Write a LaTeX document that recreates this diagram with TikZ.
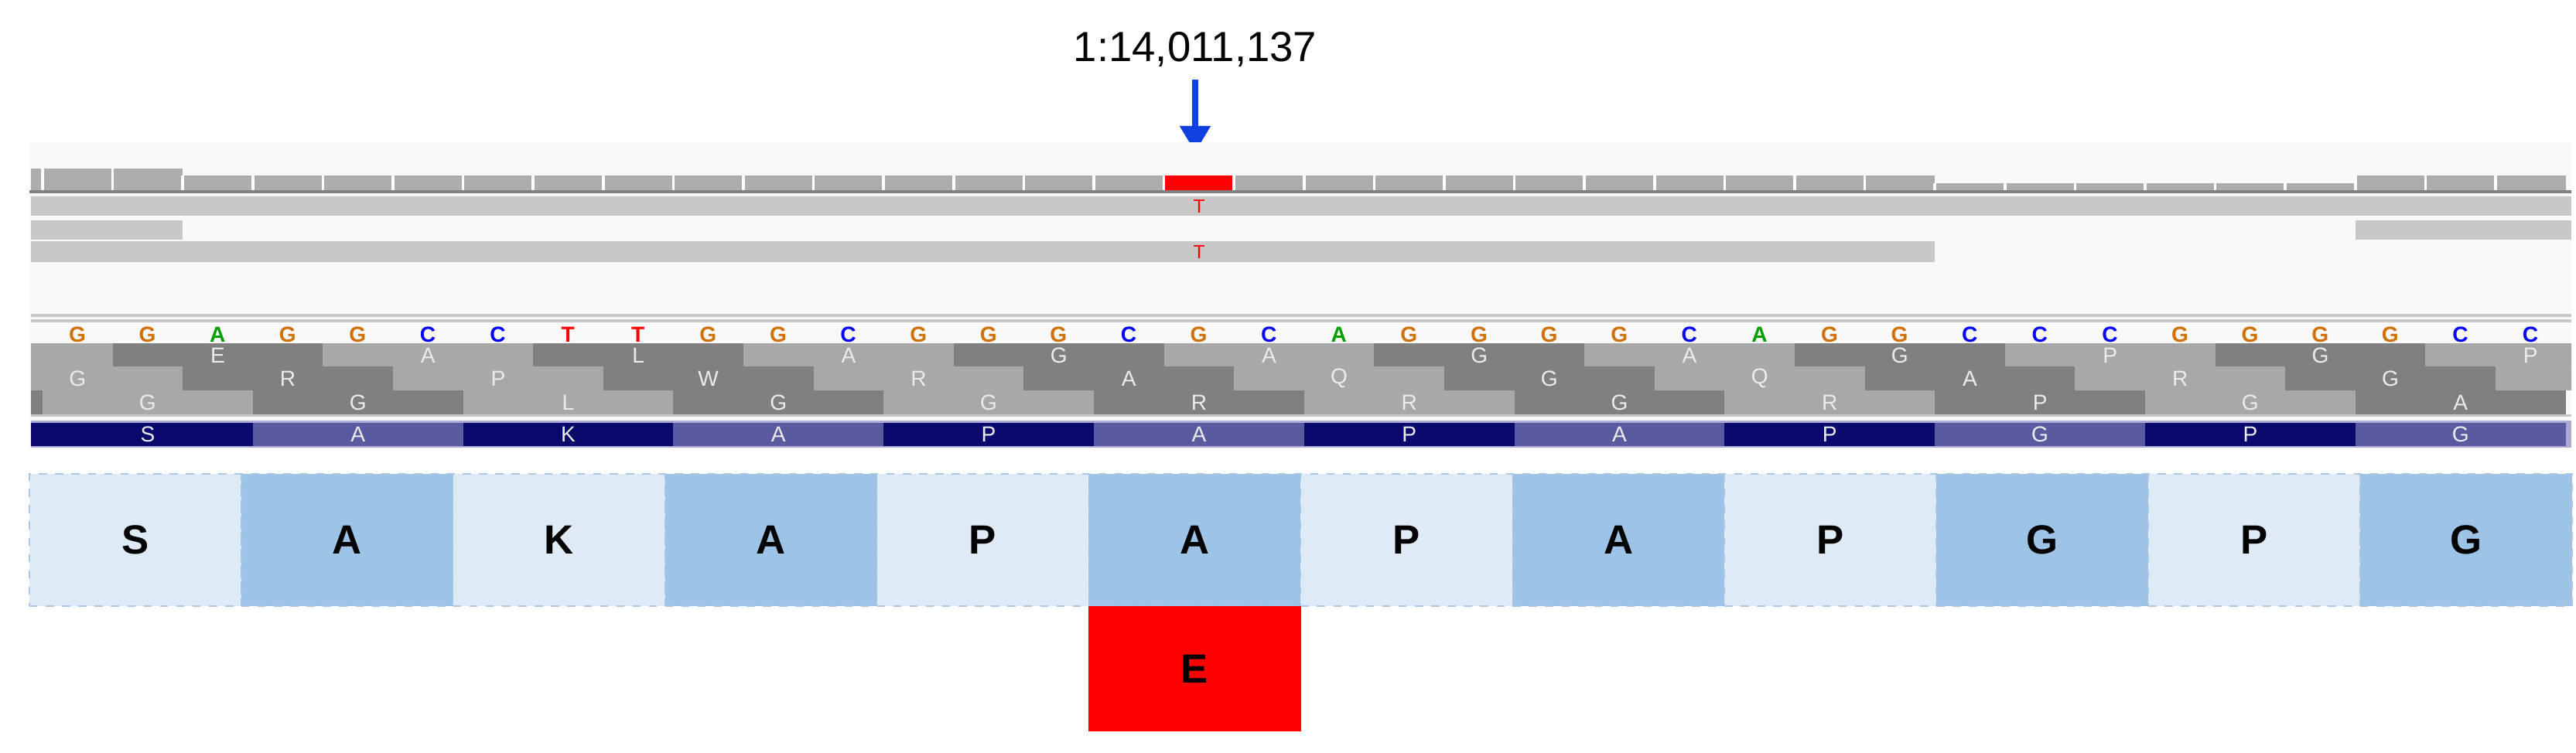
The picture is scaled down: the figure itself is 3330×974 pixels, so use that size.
\documentclass[tikz,border=0pt]{standalone}
\usepackage{fontspec}
\setmainfont{Liberation Sans}
\usetikzlibrary{arrows.meta}
\definecolor{panelbg}{RGB}{249,249,249}
\definecolor{covgray}{RGB}{172,172,172}
\definecolor{readgray}{RGB}{200,200,200}
\definecolor{frdark}{RGB}{128,128,128}
\definecolor{frlight}{RGB}{168,168,168}
\definecolor{cdark}{RGB}{10,10,110}
\definecolor{clight}{RGB}{90,90,160}
\definecolor{cedge}{RGB}{170,170,210}
\definecolor{boxlight}{RGB}{222,234,246}
\definecolor{boxdark}{RGB}{157,195,230}
\definecolor{boxline}{RGB}{170,200,230}
\definecolor{ntG}{RGB}{209,113,5}
\definecolor{ntA}{RGB}{0,160,0}
\definecolor{ntC}{RGB}{0,0,255}
\definecolor{ntT}{RGB}{255,0,0}
\definecolor{locblue}{RGB}{16,64,224}

\begin{document}
\begin{tikzpicture}[x=0.01cm, y=-0.01cm,
    base/.style={font=\fontsize{8}{8}\selectfont\bfseries, inner sep=0pt},
    aalabel/.style={font=\fontsize{8}{8}\selectfont, text=white!92!black, inner sep=0pt},
    bigbox/.style={minimum width=2.739cm, minimum height=1.71cm, inner sep=0pt, outer sep=0pt,
        draw=boxline, dashed, font=\fontsize{15}{15}\selectfont\bfseries},
    locarrow/.style={locblue, line width=0.08cm, -{Triangle[width=0.38cm, length=0.34cm]}}]
    \useasboundingbox (0,0) rectangle (3330,974);

    % Locus and arrow
    \node[font=\fontsize{15.5}{15.5}\selectfont] (locus) at (1545,64) {1:14,011,137};
    \coordinate (tail) at (1545,103);
    \coordinate (tip) at (1545,197);
    \draw[locarrow] (tail) -- (tip);

    % Track panel
    \fill[panelbg] (38,184) rectangle (3324,582);

    % Coverage
    \fill[covgray] (40,218) rectangle (55,247);
    \foreach \i in {0,...,35} {
        \pgfmathsetmacro{\xa}{55+90.6*\i}
        \pgfmathsetmacro{\ya}{(\i<2) ? 218 : ((\i>26 && \i<33) ? 237 : 227)}
        \ifnum\i=16
            \fill[red] (\xa,227) rectangle ({\xa+90.6},247);
        \else
            \fill[covgray] (\xa,\ya) rectangle ({\xa+90.6},247);
        \fi
        \draw[white, line width=1pt] (\xa,\ya) -- (\xa,247);
    }
    \draw[frdark, line width=1pt] (38,248) -- (3324,248);

    % Reads
    \fill[readgray] (40,254) rectangle (3324,279);
    \fill[readgray] (40,285) rectangle (236,310);
    \fill[readgray] (3045,285) rectangle (3324,310);
    \fill[readgray] (40,312) rectangle (2501,339);
    \node[base, font=\fontsize{7}{7}\selectfont, text=ntT] (snp1) at (1550,267) {T};
    \node[base, font=\fontsize{7}{7}\selectfont, text=ntT] (snp2) at (1550,326) {T};

    % Dividers
    \draw[readgray, line width=1.2pt] (40,408) -- (3324,408);
    \draw[readgray, line width=1.2pt] (40,415) -- (3324,415);

    % Reference sequence
    \foreach \b [count=\n from 0] in {G,G,A,G,G,C,C,T,T,G,G,C,G,G,G,C,G,C,A,G,G,G,G,C,A,G,G,C,C,C,G,G,G,G,C,C}
        \node[base, text=nt\b] (nt\n) at ({100+90.6*\n},433) {\b};

    % Three frame translation
    \begin{scope}
        \clip (40,440) rectangle (3324,536);
        \foreach \ytop/\start/\shift/\labels in {
            444/-2/0/{,E,A,L,A,G,A,G,A,G,P,G,P},
            474/-1/0/{G,R,P,W,R,A,Q,G,Q,A,R,G,},
            505/-3/1/{,G,G,L,G,G,R,R,G,R,P,G,A}} {
            \foreach \aa [count=\k from 0] in \labels {
                \pgfmathsetmacro{\xa}{55+90.6*(\start+3*\k)}
                \pgfmathtruncatemacro{\odd}{mod(\k+\shift,2)}
                \ifnum\odd=1 \def\fr{frdark}\else \def\fr{frlight}\fi
                \fill[\fr] (\xa,\ytop) rectangle ({\xa+271.8},{\ytop+31});
                \node[aalabel] at ({\xa+135.9},{\ytop+15.5}) {\aa};
            }
        }
    \end{scope}
    \fill[readgray] (40,536) rectangle (3324,539);

    % Codon bar
    \fill[cedge] (40,544) rectangle (3324,579);
    \foreach \aa [count=\k from 0] in {S,A,K,A,P,A,P,A,P,G,P,G} {
        \pgfmathsetmacro{\xa}{(\k==0) ? 40 : 55+271.8*\k}
        \pgfmathtruncatemacro{\odd}{mod(\k,2)}
        \ifnum\odd=0 \def\cc{cdark}\else \def\cc{clight}\fi
        \fill[\cc] (\xa,547) rectangle ({55+271.8*(\k+1)},577);
        \node[aalabel] at ({55+271.8*\k+135.9},562) {\aa};
    }

    % Protein boxes
    \foreach \aa [count=\k from 0] in {S,A,K,A,P,A,P,A,P,G,P,G} {
        \pgfmathtruncatemacro{\odd}{mod(\k,2)}
        \ifnum\odd=0 \def\bc{boxlight}\else \def\bc{boxdark}\fi
        \node[bigbox, fill=\bc] (prot\k) at ({38+273.9*\k+136.95},698.5) {\aa};
    }
    \node[bigbox, fill=red, draw=none, minimum height=1.62cm, anchor=north] (mut) at (prot5.south) {E};
\end{tikzpicture}
\end{document}
